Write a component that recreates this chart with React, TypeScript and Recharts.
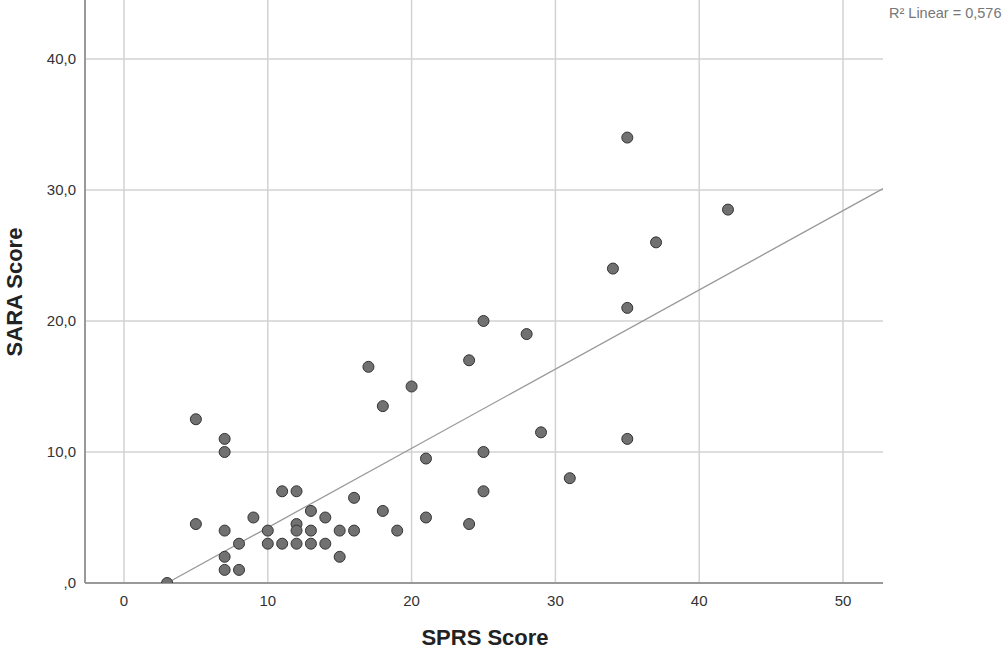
import React from 'react';
import {
  ScatterChart,
  Scatter,
  XAxis,
  YAxis,
  CartesianGrid,
  ReferenceLine,
} from 'recharts';

// SPRS vs SARA scores
const sprsScores = [
  3, 5, 5, 7, 7, 7, 7, 7, 8, 8, 9, 10, 10, 11, 11, 12, 12, 12, 12, 13, 13, 13, 14, 14, 15,
  15, 16, 16, 17, 18, 18, 19, 20, 21, 21, 24, 24, 25, 25, 25, 28, 29, 31, 34, 35, 35, 35, 37, 42,
];
const saraScores = [
  0, 12.5, 4.5, 11, 10, 4, 2, 1, 3, 1, 5, 4, 3, 7, 3, 7, 4.5, 4, 3, 5.5, 4, 3, 5, 3, 4,
  2, 6.5, 4, 16.5, 13.5, 5.5, 4, 15, 9.5, 5, 17, 4.5, 20, 10, 7, 19, 11.5, 8, 24, 34, 21, 11, 26, 28.5,
];

const xTicks = [0, 10, 20, 30, 40, 50];
const yTicks = [0, 10, 20, 30, 40];

// fit line end points (linear regression, R² = 0,576)
const fitStart = { x: 3, y: 0 };
const fitEnd = { x: 52.78, y: 30.1 };
const r2Label = 'R² Linear = 0,576';

const points = sprsScores.map((x, i) => ({ x, y: saraScores[i] }));

const fmtY = (v: number) => (v === 0 ? ',0' : v.toFixed(1).replace('.', ','));

const font = '"Liberation Sans", Arial, sans-serif';

const Dot = (props: any) => {
  const { cx, cy } = props;
  if (cx == null || cy == null) return null;
  return <circle cx={cx} cy={cy} r={5.5} fill="#717171" stroke="#333" strokeWidth={1} />;
};

export default function App() {
  return (
    <div style={{ position: 'absolute', left: 0, top: 0, width: 1008, height: 652, background: '#fff', fontFamily: font }}>
      <ScatterChart width={1008} height={652} margin={{ top: 0, right: 125, bottom: 0, left: 0 }}>
        <CartesianGrid stroke="#d2d2d2" strokeWidth={1.5} horizontalValues={yTicks} verticalValues={xTicks} />
        <XAxis
          type="number"
          dataKey="x"
          domain={[-2.71, 52.78]}
          ticks={xTicks}
          allowDataOverflow
          height={69}
          tickLine={false}
          axisLine={{ stroke: '#999', strokeWidth: 2 }}
          tick={{ fontSize: 15, fill: '#333', fontFamily: font }}
          tickMargin={6}
        />
        <YAxis
          type="number"
          dataKey="y"
          domain={[0, 44.5]}
          ticks={yTicks}
          allowDataOverflow
          width={85}
          tickLine={false}
          axisLine={{ stroke: '#999', strokeWidth: 2 }}
          tick={{ fontSize: 15, fill: '#333', fontFamily: font }}
          tickFormatter={fmtY}
          tickMargin={3}
        />
        <ReferenceLine
          segment={[fitStart, fitEnd]}
          stroke="#999"
          strokeWidth={1.3}
          ifOverflow="visible"
        />
        <Scatter data={points} shape={<Dot />} isAnimationActive={false} />
      </ScatterChart>
      <div style={{ position: 'absolute', left: 889, top: 5, fontSize: 14.5, color: '#777', whiteSpace: 'nowrap' }}>
        {r2Label}
      </div>
      <div style={{ position: 'absolute', left: 0, width: 970, textAlign: 'center', top: 625, fontSize: 22, fontWeight: 'bold', color: '#222' }}>
        SPRS Score
      </div>
      <div
        style={{
          position: 'absolute',
          left: 15,
          top: 292,
          transform: 'translate(-50%, -50%) rotate(-90deg)',
          fontSize: 22,
          fontWeight: 'bold',
          color: '#222',
          whiteSpace: 'nowrap',
        }}
      >
        SARA Score
      </div>
    </div>
  );
}
